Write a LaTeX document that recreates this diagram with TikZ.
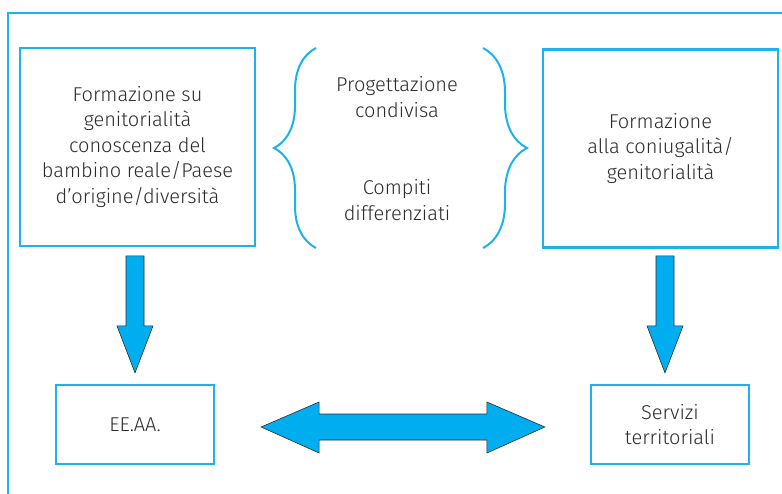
\documentclass[tikz,border=0pt]{standalone}
\usepackage{fontspec}
\setmainfont{Fira Sans Light}
\usetikzlibrary{calc,decorations.pathreplacing}
\definecolor{cyanline}{HTML}{1DB2EA}
\definecolor{cyanfill}{HTML}{00AEEF}
\definecolor{textgray}{HTML}{2B2B2B}

\begin{document}
\begin{tikzpicture}[x=1pt,y=-1pt,
	box/.style={draw=cyanline,line width=2.2pt,align=center,text=textgray,inner sep=0pt,font=\fontsize{20}{25.5}\selectfont},
	bigbox/.style={box,minimum width=235pt,minimum height=198pt},
	smallbox/.style={box,minimum width=158pt,minimum height=79pt},
	midtext/.style={align=center,text=textgray,font=\fontsize{20}{25.5}\selectfont},
	fatarrow/.style={fill=cyanfill,draw=textgray,line width=0.6pt,line join=miter},
	curly/.style={draw=cyanline,line width=2pt,decorate,decoration={brace,amplitude=#1}}]
	\useasboundingbox (0,0) rectangle (782,493);
	% open frame
	\draw[cyanline,line width=2pt] (8,495) -- (8,13) -- (784,13);
	% boxes
	\node[bigbox] (form) at (137.5,147) {Formazione su\\genitorialità\\conoscenza del\\bambino reale/Paese\\d’origine/diversità};
	\node[bigbox] (coniug) at (660.5,148.5) {Formazione\\alla coniugalità/\\genitorialità};
	\node[smallbox] (ee) at (135,424.5) {EE.AA.};
	\node[smallbox] (serv) at (670,424.5) {Servizi\\territoriali};
	% middle texts
	\node[midtext] (prog) at (397,97) {Progettazione\\condivisa};
	\node[midtext] (comp) at (397,200) {Compiti\\differenziati};
	% braces
	\coordinate (lbt) at (316,48);
	\coordinate (lbb) at (316,248);
	\coordinate (rbt) at (483,48);
	\coordinate (rbb) at (483,248);
	\draw[curly=42pt] (lbb) -- (lbt);
	\draw[curly=44pt] (rbt) -- (rbb);
	% down arrows
	\coordinate (ltip) at ($(ee.north)+(0,-11)$);
	\coordinate (rtip) at ($(serv.north)+(-5,-11)$);
	\draw[fatarrow] (ltip) -- ++(-18,-47) -- ++(9,0) -- ++(0,-70) -- ++(18,0) -- ++(0,70) -- ++(9,0) -- cycle;
	\draw[fatarrow] (rtip) -- ++(-18,-47) -- ++(9,0) -- ++(0,-70) -- ++(18,0) -- ++(0,70) -- ++(9,0) -- cycle;
	% double arrow
	\coordinate (dl) at ($(ee.east)+(46,2.5)$);
	\coordinate (dr) at ($(serv.west)+(-45,2.5)$);
	\draw[fatarrow] (dl) -- ++(58,-25) -- ++(0,12) -- ($(dr)+(-58,-13)$) -- ++(0,-12) -- (dr)
		-- ++(-58,26) -- ++(0,-13) -- ($(dl)+(58,13)$) -- ++(0,13) -- cycle;
\end{tikzpicture}
\end{document}
